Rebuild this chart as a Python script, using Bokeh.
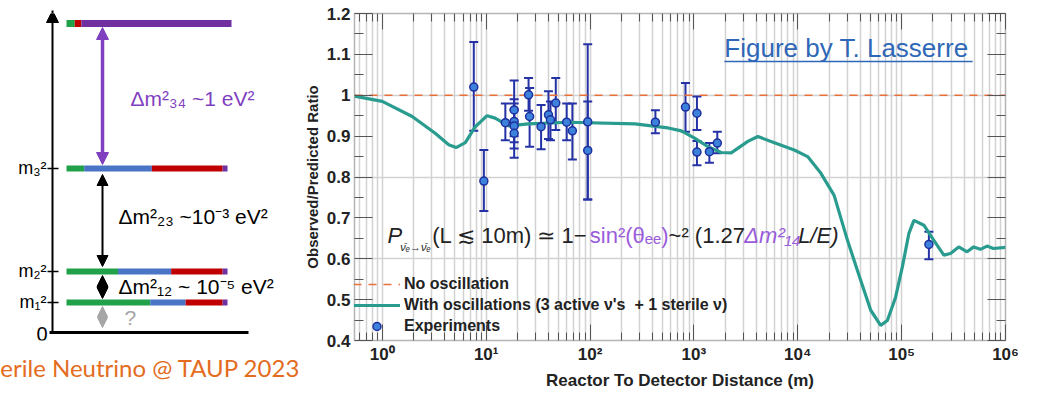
import math
from bokeh.plotting import figure
from bokeh.layouts import row
from bokeh.models import (Range1d, FixedTicker, LogAxis, LinearAxis, Whisker, TeeHead,
                          Label, Arrow, NormalHead, Legend, LegendItem, ColumnDataSource,
                          CustomJSTickFormatter)
from bokeh.embed import file_html
from bokeh.resources import INLINE

# ---------------- chart data ----------------
x_ticks = [1, 10, 100, 1000, 10000, 100000, 1000000]
x_tick_labels = ["10⁰", "10¹", "10²", "10³", "10⁴", "10⁵", "10⁶"]
y_ticks = [0.4, 0.5, 0.6, 0.7, 0.8, 0.9, 1.0, 1.1, 1.2]
y_tick_labels = ["0.4", "0.5", "0.6", "0.7", "0.8", "0.9", "1", "1.1", "1.2"]

# experiments: distance (m), observed/predicted ratio, error bar low/high
exp_L = [7.6, 9.5, 15.3, 18.6, 18.6, 18.6, 18.6, 25.6, 26.2, 33.8, 39.8, 41.6, 46.8,
         59.6, 67.6, 95, 95, 426, 830, 1070, 1070, 1410, 1680, 183000]
exp_ratio = [1.020, 0.790, 0.933, 0.964, 0.936, 0.925, 0.907, 1.001, 0.948, 0.923, 0.952,
             0.940, 0.981, 0.934, 0.913, 0.935, 0.865, 0.934, 0.971, 0.956, 0.861, 0.862,
             0.883, 0.635]
exp_lo = [0.913, 0.717, 0.890, 0.900, 0.885, 0.870, 0.847, 0.962, 0.874, 0.868, 0.893,
          0.890, 0.915, 0.890, 0.843, 0.745, 0.745, 0.907, 0.911, 0.915, 0.829, 0.835,
          0.858, 0.599]
exp_hi = [1.130, 0.866, 0.980, 1.036, 0.990, 0.980, 0.965, 1.042, 1.018, 0.976, 1.010,
          0.985, 1.042, 0.980, 0.980, 1.125, 0.985, 0.963, 1.030, 0.997, 0.888, 0.883,
          0.911, 0.666]

# oscillation curve (3 active + 1 sterile)
curve_L = [0.54, 1.0, 1.94, 3.23, 4.36, 5.13, 6.30, 7.86, 10.2, 12.2, 16.4, 25.6, 61.9,
           270, 564, 757, 1016, 1366, 1832, 2285, 3306, 4124, 5957, 9250, 12440, 16710,
           22400, 30100, 40400, 50400, 62800, 72900, 87500, 101600, 117500, 131300,
           163800, 204200, 254800, 295300, 354700, 426700, 494000, 573100, 664100,
           764000, 1000000]
curve_ratio = [0.998, 0.985, 0.948, 0.907, 0.879, 0.872, 0.884, 0.923, 0.950, 0.944,
               0.925, 0.930, 0.934, 0.930, 0.920, 0.913, 0.895, 0.874, 0.860, 0.859,
               0.887, 0.899, 0.884, 0.866, 0.850, 0.809, 0.755, 0.645, 0.547, 0.474,
               0.437, 0.449, 0.506, 0.580, 0.662, 0.694, 0.682, 0.645, 0.609, 0.613,
               0.629, 0.617, 0.629, 0.623, 0.631, 0.625, 0.628]

no_osc_L = [0.54, 1000000]
no_osc_ratio = [1.0, 1.0]

# ---------------- mass diagram data ----------------
level_names = ["m₁²", "m₂²", "m₃²", ""]
level_height = [302, 271, 168, 23]          # vertical position on the diagram
level_length = [161, 161, 161, 165]
flavour_colors = ["#21A24A", "#4A74C6", "#C00000", "#7030A0"]   # e, mu, tau, sterile
flavour_mix = [[0.52, 0.22, 0.23, 0.03],
               [0.32, 0.33, 0.32, 0.03],
               [0.11, 0.42, 0.44, 0.03],
               [0.05, 0.00, 0.04, 0.91]]
gap_texts = ["Δm²₃₄ ~1 eV²", "Δm²₂₃ ~10⁻³ eV²", "Δm²₁₂ ~ 10⁻⁵ eV²"]
footer = "erile Neutrino @ TAUP 2023"

FL, FR, FT, FB = 352, 1005, 13, 340     # plot frame edges in page pixels

# =============== left: mass diagram ===============
DW = 300
d = figure(width=DW, height=398, x_range=Range1d(0, DW), y_range=Range1d(FB, FT),
           output_backend="svg", toolbar_location=None,
           min_border_left=0, min_border_right=0, min_border_top=FT,
           min_border_bottom=398 - FB, y_axis_location=None)
d.grid.visible = False
d.outline_line_color = None
dax = d.xaxis[0]
dax.ticker = FixedTicker(ticks=[])
dax.formatter = CustomJSTickFormatter(code="return ''")
dax.axis_line_color = None
dax.major_tick_line_color = None
dax.minor_tick_line_color = None
dax.major_label_standoff = 0
dax.axis_label = footer
dax.axis_label_text_font = "Lato"
dax.axis_label_text_font_size = "24px"
dax.axis_label_text_font_style = "normal"
dax.axis_label_text_color = "#E36C1E"
dax.axis_label_standoff = 12
DFONT = "Liberation Sans"

# vertical axis with arrow
d.add_layout(Arrow(x_start=52, y_start=333, x_end=52, y_end=10,
                   line_color="black", line_width=2,
                   end=NormalHead(size=12, fill_color="black", line_color="black")))
# zero line
d.segment(x0=[49], y0=[332], x1=[248], y1=[332], line_color="black", line_width=3)
d.add_layout(Label(x=47, y=333, text="0", text_font=DFONT, text_font_size="20px",
                   text_align="right", text_baseline="middle", text_color="black"))

bx0, by0, bx1, by1, bcol, bw = [], [], [], [], [], []
for name, hy, ln, mix in zip(level_names, level_height, level_length, flavour_mix):
    x0 = 66
    for frac, col in zip(mix, flavour_colors):
        if frac <= 0:
            continue
        x1 = x0 + frac * ln
        bx0.append(x0); bx1.append(x1); by0.append(hy); by1.append(hy)
        bcol.append(col); bw.append(7 if name == "" else 6)
        x0 = x1
    if name:
        d.segment(x0=[47], y0=[hy], x1=[58], y1=[hy], line_color="black", line_width=1.5)
        d.add_layout(Label(x=46, y=hy - 1, text=name, text_font=DFONT,
                           text_font_size="18px", text_align="right",
                           text_baseline="middle", text_color="black"))
d.segment(x0=bx0, y0=by0, x1=bx1, y1=by1, line_color=bcol, line_width=bw, line_cap="butt")

DPURP = "#7F3FBF"
arrows = [(27, 164, DPURP, 3.5, 12), (174, 266, "black", 2, 11),
          (275, 298, "black", 2, 11), (306, 327, "#A6A6A6", 2, 10)]
for ys, ye, col, lw, hs in arrows:
    d.add_layout(Arrow(x_start=102, y_start=ys, x_end=102, y_end=ye,
                       line_color=col, line_width=lw,
                       start=NormalHead(size=hs, fill_color=col, line_color=col),
                       end=NormalHead(size=hs, fill_color=col, line_color=col)))

gap_pos = [(130, 98, DPURP), (118, 216, "black"), (118, 286, "black")]
for t, (px, py, col) in zip(gap_texts, gap_pos):
    d.add_layout(Label(x=px, y=py, text=t, text_font=DFONT, text_font_size="21px",
                       text_color=col, text_baseline="middle"))
d.add_layout(Label(x=124, y=317, text="?", text_font=DFONT, text_font_size="21px",
                   text_color="#A6A6A6", text_baseline="middle"))

# =============== right: reactor ratio plot ===============
X_START = 0.54
X_END = 1e6
LX0, LX1 = math.log10(X_START), math.log10(X_END)


def fx(px):
    return 10 ** (LX0 + (px - FL) / (FR - FL) * (LX1 - LX0))


def fy(py):
    return 1.2 - (py - FT) / (FB - FT) * 0.8


p = figure(width=1064 - DW, height=398, x_axis_type="log",
           x_range=Range1d(X_START, X_END), y_range=Range1d(0.4, 1.2),
           output_backend="svg", toolbar_location=None,
           min_border_left=FL - DW, min_border_right=1064 - FR,
           min_border_top=FT, min_border_bottom=398 - FB)
p.outline_line_color = "#b5b5b5"
p.outline_line_width = 1.5

minor_x = [m * 10 ** k for k in range(-1, 6) for m in range(2, 10)]
minor_y = [0.45, 0.55, 0.65, 0.75, 0.85, 0.95, 1.05, 1.15]
xticker = FixedTicker(ticks=x_ticks, minor_ticks=minor_x)
yticker = FixedTicker(ticks=y_ticks, minor_ticks=minor_y)

TICK_COL = "#555555"
xa = p.xaxis[0]
xa.ticker = xticker
xa.major_label_overrides = {t: s for t, s in zip(x_ticks, x_tick_labels)}
xa.axis_label = "Reactor To Detector Distance (m)"
ya = p.yaxis[0]
ya.ticker = yticker
ya.major_label_overrides = {t: s for t, s in zip(y_ticks, y_tick_labels)}
ya.axis_label = "Observed/Predicted Ratio"
for ax in (xa, ya):
    ax.axis_line_color = None
    ax.major_tick_out = 0
    ax.minor_tick_out = 0
    ax.major_tick_line_color = TICK_COL
    ax.minor_tick_line_color = TICK_COL
    ax.major_label_text_font = "Liberation Sans"
    ax.major_label_text_font_style = "bold"
    ax.major_label_text_color = "#222222"
    ax.axis_label_text_font = "Liberation Sans"
    ax.axis_label_text_font_style = "bold"
    ax.axis_label_text_color = "#222222"
xa.major_tick_in = 16
xa.minor_tick_in = 8
ya.major_tick_in = 18
ya.minor_tick_in = 9
xa.major_label_text_font_size = "17px"
ya.major_label_text_font_size = "17px"
xa.axis_label_text_font_size = "17px"
ya.axis_label_text_font_size = "15px"
xa.major_label_standoff = 4
ya.major_label_standoff = 4
xa.axis_label_standoff = 4
ya.axis_label_standoff = 3

blank = CustomJSTickFormatter(code="return ''")
top = LogAxis(ticker=xticker, formatter=blank, major_label_text_font_size="2px",
              major_label_standoff=0, axis_line_color=None, major_tick_in=16,
              minor_tick_in=8, major_tick_out=0, minor_tick_out=0,
              major_tick_line_color=TICK_COL, minor_tick_line_color=TICK_COL)
right = LinearAxis(ticker=yticker, formatter=blank, major_label_text_font_size="2px",
                   major_label_standoff=0, axis_line_color=None, major_tick_in=18,
                   minor_tick_in=9, major_tick_out=0, minor_tick_out=0,
                   major_tick_line_color=TICK_COL, minor_tick_line_color=TICK_COL)
p.add_layout(top, "above")
p.add_layout(right, "right")

GRID = "#d2d2d2"
p.xgrid.grid_line_color = GRID
p.xgrid.grid_line_width = 1.5
p.xgrid.minor_grid_line_color = GRID
p.xgrid.minor_grid_line_width = 1.5
p.ygrid.ticker = FixedTicker(ticks=[0.6, 0.8, 1.0])
p.ygrid.grid_line_color = GRID
p.ygrid.grid_line_width = 1.5

# no oscillation line
r_no = p.line(no_osc_L, no_osc_ratio, line_color="#E8703A", line_width=1.6, line_dash="8 7")
# oscillation curve
r_osc = p.line(curve_L, curve_ratio, line_color="#2A9C8F", line_width=3.2)

# experiments
ERR = "#2532A6"
src = ColumnDataSource(dict(L=exp_L, r=exp_ratio, lo=exp_lo, hi=exp_hi))
wk = Whisker(source=src, base="L", upper="hi", lower="lo", dimension="height",
             line_color=ERR, line_width=2,
             upper_head=TeeHead(size=9, line_color=ERR, line_width=2),
             lower_head=TeeHead(size=9, line_color=ERR, line_width=2))
p.add_layout(wk)
r_exp = p.scatter("L", "r", source=src, size=8, fill_color="#3C82DA",
                  line_color="#1E2F9E", line_width=1.5)

legend = Legend(items=[LegendItem(label="No oscillation", renderers=[r_no]),
                       LegendItem(label="With oscillations (3 active ν's  + 1 sterile ν)",
                                  renderers=[r_osc]),
                       LegendItem(label="Experiments", renderers=[r_exp])],
                location=(-1, 4), padding=4, margin=0, spacing=1,
                glyph_width=47, glyph_height=20, label_height=20, label_standoff=4,
                label_text_font="Liberation Sans", label_text_font_style="bold",
                label_text_font_size="16px", label_text_color="#222222",
                border_line_color=None, background_fill_alpha=0)
p.add_layout(legend)

# "Figure by" credit
p.add_layout(Label(x=fx(723), y=fy(47), text="Figure by T. Lasserre",
                   text_font="Liberation Sans", text_font_size="26px",
                   text_color="#2E67B7", text_baseline="middle"))
p.add_layout(Arrow(x_start=fx(723), y_start=fy(61), x_end=fx(972), y_end=fy(61),
                   start=None, end=None, line_color="#2E67B7", line_width=1.5))

# formula
BLACK = "#222222"
PURP = "#9A5CDB"
formula = [("P", 385, 235, "22px", "italic", BLACK),
           ("\u03bd\u0304\u2091\u2192\u03bd\u0304\u2091", 398, 246, "11px", "italic", BLACK),
           ("(L ≲ 10m) ≃ 1−", 430, 235, "22px", "normal", BLACK),
           ("sin²(θₑₑ)", 588, 235, "22px", "normal", PURP),
           ("~² (1.27", 667, 235, "22px", "normal", BLACK),
           ("Δm²₁₄", 743, 235, "22px", "italic", PURP),
           ("L/E)", 797, 235, "22px", "italic", BLACK)]
for t, px, py, fs, st, col in formula:
    p.add_layout(Label(x=fx(px), y=fy(py), text=t, text_font="Liberation Sans",
                       text_font_size=fs, text_font_style=st, text_color=col,
                       text_baseline="middle"))

open("out.html", "w").write(file_html(row(d, p), INLINE))
